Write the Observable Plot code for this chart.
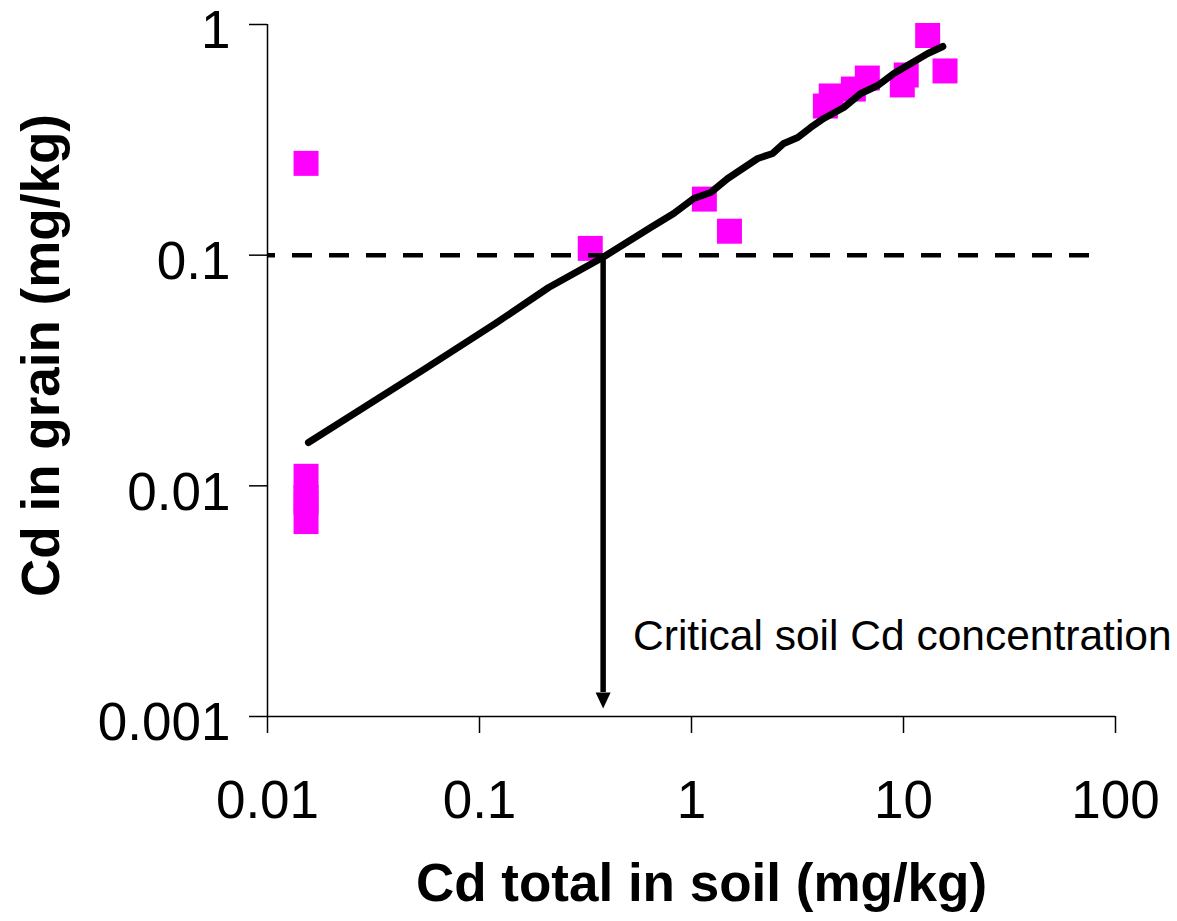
<!DOCTYPE html>
<html>
<head>
<meta charset="utf-8">
<script src="https://cdn.jsdelivr.net/npm/d3@7"></script>
<script src="https://cdn.jsdelivr.net/npm/@observablehq/plot@0.6"></script>
<style>
html, body { margin: 0; padding: 0; background: #fff; overflow: hidden; }
#chart svg { display: block; }
</style>
</head>
<body>
<div id="chart"></div>
<script>
// Observed data: Cd total in soil vs Cd in grain (mg/kg)
const soilCd  = [0.0152, 0.0152, 0.0152, 0.0152, 0.0152, 0.333, 1.15, 1.51, 4.28, 4.56, 5.80, 6.75, 9.87, 10.3, 13.0, 15.7];
const grainCd = [0.250, 0.0110, 0.0089, 0.0085, 0.0070, 0.107, 0.175, 0.127, 0.443, 0.490, 0.525, 0.586, 0.547, 0.604, 0.896, 0.629];

// Fitted curve
const fitSoil  = [0.0156, 0.0557, 0.119, 0.212, 0.381, 0.642, 0.824, 1.024, 1.232, 1.482, 2.053, 2.416, 2.723, 3.171, 3.651, 4.206, 5.228, 6.288, 7.563, 9.00, 10.82, 13.02, 15.33];
const fitGrain = [0.0154, 0.0323, 0.0506, 0.0724, 0.0977, 0.1318, 0.1516, 0.176, 0.187, 0.215, 0.2625, 0.276, 0.305, 0.3237, 0.3577, 0.3913, 0.4367, 0.5022, 0.5439, 0.6133, 0.6776, 0.7487, 0.8027];

// Axes
const xTicks = [0.01, 0.1, 1, 10, 100];
const xTickLabels = ["0.01", "0.1", "1", "10", "100"];
const yTicks = [0.001, 0.01, 0.1, 1];
const yTickLabels = ["0.001", "0.01", "0.1", "1"];
const xTitle = ["Cd total in soil (mg/kg)"];
const yTitle = ["Cd in grain (mg/kg)"];

// Critical threshold guide
const critGrain = [0.1];
const critSoil = [0.383];
const guideEndSoil = [83.5];
const arrowEndGrain = [0.00127];
const annotation = ["Critical soil Cd concentration"];
const annotationSoil = [0.53];
const annotationGrain = [0.00223];

const points = soilCd.map((x, i) => ({x, y: grainCd[i]}));
const fit = fitSoil.map((x, i) => ({x, y: fitGrain[i]}));

const downHead = {
  draw(ctx) {
    ctx.moveTo(-7.5, 0);
    ctx.lineTo(7.5, 0);
    ctx.lineTo(0, 16);
    ctx.closePath();
  }
};

const FONT = "'Liberation Sans', Arial, Helvetica, sans-serif";

const chart = Plot.plot({
  width: 1177,
  height: 921,
  marginLeft: 267,
  marginRight: 62,
  marginTop: 24,
  marginBottom: 205,
  style: {fontFamily: FONT, fontSize: "53px", background: "#fff", color: "#000"},
  x: {type: "log", domain: [0.01, 100]},
  y: {type: "log", domain: [0.001, 1]},
  marks: [
    Plot.dot(points, {x: "x", y: "y", symbol: "square", r: 14.1, fill: "#FF00FF"}),
    Plot.ruleY(critGrain, {x1: () => xTicks[0], x2: () => guideEndSoil[0], stroke: "#000", strokeWidth: 4.5, strokeDasharray: "20,17", strokeDashoffset: 12}),
    Plot.ruleX(critSoil, {y1: () => critGrain[0], y2: () => arrowEndGrain[0], stroke: "#000", strokeWidth: 5.5}),
    Plot.dot(critSoil, {x: d => d, y: () => arrowEndGrain[0], symbol: downHead, r: 5, fill: "#000"}),
    Plot.line(fit, {x: "x", y: "y", stroke: "#000", strokeWidth: 7, strokeLinejoin: "round", strokeLinecap: "round"}),
    Plot.ruleX([xTicks[0]], {stroke: "#000", strokeWidth: 1.5}),
    Plot.ruleY([yTicks[0]], {stroke: "#000", strokeWidth: 1.5}),
    Plot.axisY({ticks: yTicks, tickFormat: () => "", tickSize: 18, strokeWidth: 1.5, label: null}),
    Plot.text(yTicks, {y: d => d, frameAnchor: "left", dx: -37, dy: 7, textAnchor: "end", lineAnchor: "middle", text: d => yTickLabels[yTicks.indexOf(d)], fontSize: 53, fill: "#000"}),
    Plot.axisX({ticks: xTicks, tickFormat: d => xTickLabels[xTicks.indexOf(d)], tickSize: 17, tickPadding: 47, fontSize: 53, strokeWidth: 1.5, label: null}),
    Plot.text(annotation, {x: () => annotationSoil[0], y: () => annotationGrain[0], textAnchor: "start", lineAnchor: "middle", fontSize: 42.5, fill: "#000"}),
    Plot.text(xTitle, {frameAnchor: "bottom", dx: 10, dy: 184, textAnchor: "middle", lineAnchor: "bottom", fontSize: 53, fontWeight: "bold", fill: "#000"}),
    Plot.text(yTitle, {frameAnchor: "left", rotate: -90, dx: -209, dy: -15, textAnchor: "middle", lineAnchor: "bottom", fontSize: 53, fontWeight: "bold", fill: "#000"})
  ]
});
document.getElementById("chart").appendChild(chart);
</script>
</body>
</html>
